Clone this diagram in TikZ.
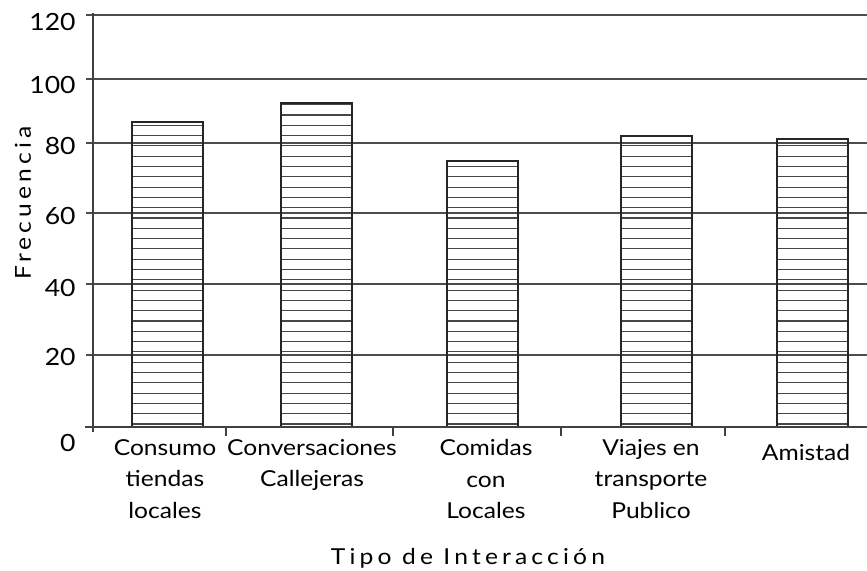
\documentclass[tikz,border=0pt]{standalone}
\usepackage{fontspec}
\setmainfont{Lato}[FakeStretch=1.12]
\usetikzlibrary{positioning}

\begin{document}
\begin{tikzpicture}[
    x=0.02cm, y=-0.02cm,
    grid/.style={draw=black!70, line width=0.6pt},
    axis/.style={draw=black!75, line width=0.6pt},
    barbox/.style={draw=black!85, line width=0.9pt},
    hatch/.style={draw=black!72, line width=0.65pt},
    ticklabel/.style={font=\fontsize{13.5}{16}\selectfont, anchor=east, inner sep=0pt},
    catlabel/.style={font=\fontsize{12.5}{18}\selectfont, align=center, anchor=north, inner sep=0pt},
    axistitle/.style={font=\fontsize{12.5}{14}\selectfont\addfontfeature{LetterSpace=19}, inner sep=0pt}
]

    % Canvas
    \useasboundingbox (0,0) rectangle (867,571);

    % Grid lines and value labels
    \foreach \gy/\val/\ly in {15/120/21.5, 79/100/85, 143/80/146, 213/60/216, 284/40/288, 355/20/357} {
        \draw[grid] (86,\gy) -- (867,\gy);
        \node[ticklabel] (y\val) at (76,\ly) {\val};
    }
    \node[ticklabel] (y0) at (76,443) {0};

    % Bars with horizontal hatching
    \foreach \xl/\top in {132/122, 281/103, 447/161, 621/136, 777/139} {
        \begin{scope}
            \clip (\xl,427) rectangle (\xl+71,\top);
            \foreach \k in {0,...,32}
                \draw[hatch] (\xl,424-\k*10.3) -- ++(71,0);
        \end{scope}
        \draw[barbox] (\xl,427) rectangle (\xl+71,\top);
    }

    % Axes and category ticks
    \draw[axis] (85,427) -- (867,427);
    \draw[axis] (93,13) -- (93,432);
    \foreach \tx in {226,393,561,725}
        \draw[axis] (\tx,427) -- (\tx,436);

    % Category labels
    \node[catlabel] (consumo) at (165,439) {Consumo\\tiendas\\locales};
    \node[catlabel] (conversaciones) at (312,439) {Conversaciones\\Callejeras};
    \node[catlabel] (comidas) at (486,439) {Comidas\\con\\Locales};
    \node[catlabel] (viajes) at (651,439) {Viajes en\\transporte\\Publico};
    \node[catlabel] (amistad) at (806,444) {Amistad};

    % Axis titles
    \node[axistitle, rotate=90] (ytitle) at (23,203) {Frecuencia};
    \node[axistitle] (xtitle) at (468,558) {Tipo de Interacción};

\end{tikzpicture}
\end{document}
